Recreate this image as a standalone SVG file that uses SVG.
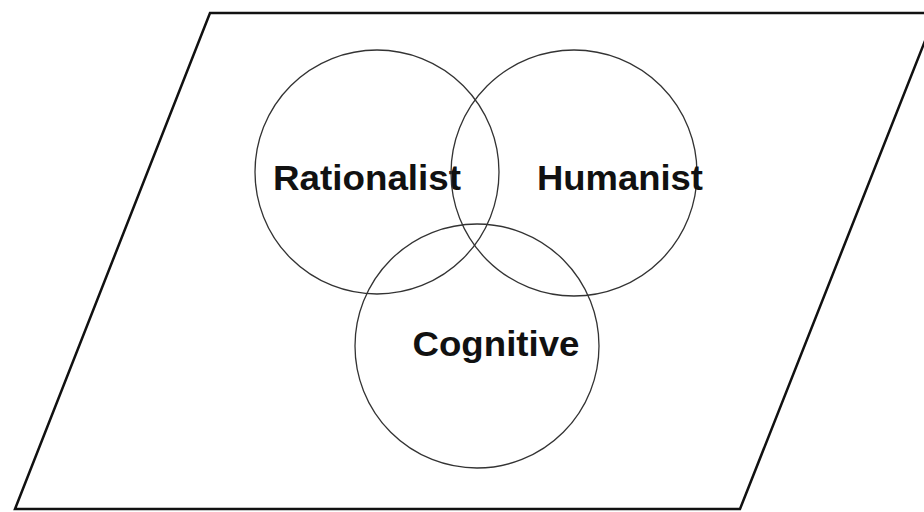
<svg xmlns="http://www.w3.org/2000/svg" width="924" height="512" viewBox="0 0 924 512">
<style>
.frame{fill:none;stroke:#111;stroke-width:2.5;stroke-linejoin:miter}
.c{fill:none;stroke:#333;stroke-width:1.3}
.t{font-family:"Liberation Sans",Arial,sans-serif;font-weight:bold;font-size:35px;fill:#111;text-anchor:middle}
</style>
<rect width="924" height="512" fill="#fff"/>
<polygon class="frame" points="210,13 936,13 740,509 15,509"/>
<g id="rationalist"><circle class="c" cx="377" cy="172" r="122"/><text class="t" x="367" y="190" textLength="188" lengthAdjust="spacingAndGlyphs">Rationalist</text></g>
<g id="humanist"><circle class="c" cx="574" cy="173" r="123"/><text class="t" x="620" y="190" textLength="166" lengthAdjust="spacingAndGlyphs">Humanist</text></g>
<g id="cognitive"><circle class="c" cx="477" cy="346" r="122"/><text class="t" x="496" y="356" textLength="167" lengthAdjust="spacingAndGlyphs">Cognitive</text></g>
<g id="connectors"></g>
</svg>
